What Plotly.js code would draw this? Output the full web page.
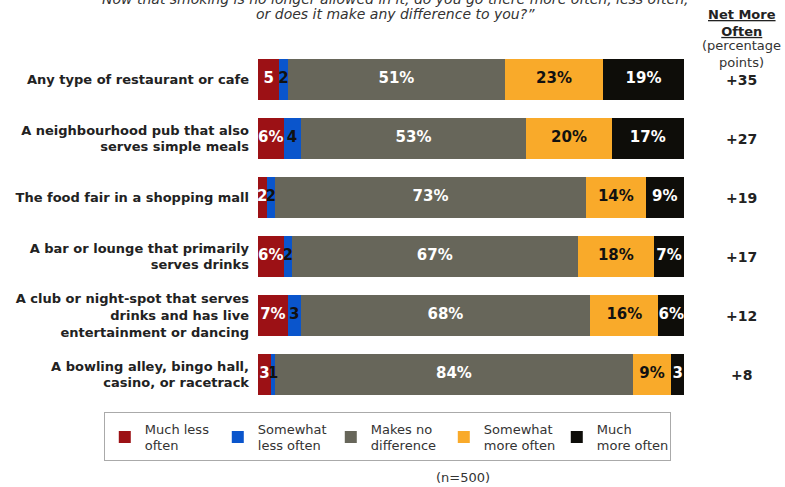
<!DOCTYPE html>
<html><head><meta charset="utf-8">
<script src="https://cdn.plot.ly/plotly-3.0.1.min.js"></script>
<style>html,body{margin:0;padding:0;background:#fff}</style>
</head><body><div id="chart" style="width:785px;height:487px"></div>
<script>
var categories = [
  "Any type of restaurant or cafe",
  "A neighbourhood pub that also<br>serves simple meals",
  "The food fair in a shopping mall",
  "A bar or lounge that primarily<br>serves drinks",
  "A club or night-spot that serves<br>drinks and has live<br>entertainment or dancing",
  "A bowling alley, bingo hall,<br>casino, or racetrack"
];
var seriesNames = ["Much less<br>often", "Somewhat<br>less often", "Makes no<br>difference", "Somewhat<br>more often", "Much<br>more often"];
var muchLess     = [5, 6, 2, 6, 7, 3];
var somewhatLess = [2, 4, 2, 2, 3, 1];
var noDifference = [51, 53, 73, 67, 68, 84];
var somewhatMore = [23, 20, 14, 18, 16, 9];
var muchMore     = [19, 17, 9, 7, 6, 3];
var netMore      = [35, 27, 19, 17, 12, 8];

var colors = ["#9c1115", "#0a55cc", "#67665a", "#f9aa2a", "#0e0d09"];
var labelColors = ["#ffffff", "#111111", "#ffffff", "#111111", "#ffffff"];
var series = [muchLess, somewhatLess, noDifference, somewhatMore, muchMore];
var yIdx = categories.map(function(_, i){ return i; });

var traces = series.map(function(vals, s){
  return {
    type: "bar", orientation: "h", name: seriesNames[s],
    x: vals, y: yIdx, width: 0.68,
    marker: {color: colors[s], line: {width: 0}},
    hoverinfo: "skip"
  };
});

var tx = [], ty = [], tt = [], tc = [];
for (var i = 0; i < categories.length; i++) {
  var cum = 0;
  for (var s = 0; s < series.length; s++) {
    var v = series[s][i];
    tx.push(cum + v / 2); ty.push(i);
    tt.push(v >= 6 ? v + "%" : String(v));
    tc.push(labelColors[s]);
    cum += v;
  }
}
traces.push({
  type: "scatter", mode: "text", x: tx, y: ty, text: tt,
  textfont: {family: "DejaVu Sans", size: 15, weight: "bold", color: tc},
  textposition: "middle center", showlegend: false, hoverinfo: "skip", cliponaxis: false
});

var annotations = [
  {xref: "paper", yref: "paper", x: 0.322, xanchor: "center", y: 1.144, yanchor: "middle", showarrow: false,
   text: "<i>Now that smoking is no longer allowed in it, do you go there more often, less often,</i>",
   font: {family: "DejaVu Sans", size: 14, color: "#333"}},
  {xref: "paper", yref: "paper", x: 0.322, xanchor: "center", y: 1.101, yanchor: "middle", showarrow: false,
   text: "<i>or does it make any difference to you?\u201D</i>",
   font: {family: "DejaVu Sans", size: 14, color: "#333"}},
  {xref: "paper", yref: "paper", x: 1.136, xanchor: "center", y: 1.077, yanchor: "middle", showarrow: false,
   text: "<b><u>Net More</u></b><br><b><u>Often</u></b>",
   font: {family: "DejaVu Sans", size: 13, color: "#222"}},
  {xref: "paper", yref: "paper", x: 1.136, xanchor: "center", y: 0.99, yanchor: "middle", showarrow: false,
   text: "(percentage<br>points)",
   font: {family: "DejaVu Sans", size: 13, color: "#333"}},
  {xref: "paper", yref: "paper", x: 0.481, xanchor: "center", y: -0.209, yanchor: "middle", showarrow: false,
   text: "(n=500)", font: {family: "DejaVu Sans", size: 13, color: "#333"}}
];
netMore.forEach(function(v, i){
  annotations.push({xref: "paper", yref: "y", x: 1.136, xanchor: "center", y: i, showarrow: false,
    text: "+" + v, font: {family: "DejaVu Sans", size: 14, weight: "bold", color: "#222"}});
});

var layout = {
  width: 785, height: 487,
  margin: {l: 258, r: 101, t: 50, b: 83, autoexpand: false},
  paper_bgcolor: "#fff", plot_bgcolor: "#fff",
  barmode: "stack",
  showlegend: true,
  legend: {orientation: "h", x: -0.362, xanchor: "left", y: -0.024, yanchor: "top",
    bordercolor: "#aaa", borderwidth: 1, entrywidth: 68, entrywidthmode: "pixels",
    itemwidth: 30, traceorder: "normal",
    font: {family: "DejaVu Sans", size: 13, color: "#333"}},
  xaxis: {range: [0, 100], visible: false, fixedrange: true},
  yaxis: {type: "linear", range: [5.5, -0.5], tickmode: "array", tickvals: yIdx, ticktext: categories,
    showgrid: false, zeroline: false, showline: false, ticks: "", ticklabelstandoff: 8,
    tickfont: {family: "DejaVu Sans", size: 13, weight: "bold", color: "#222"}},
  annotations: annotations
};
Plotly.newPlot("chart", traces, layout, {displayModeBar: false, staticPlot: true});
</script></body></html>
